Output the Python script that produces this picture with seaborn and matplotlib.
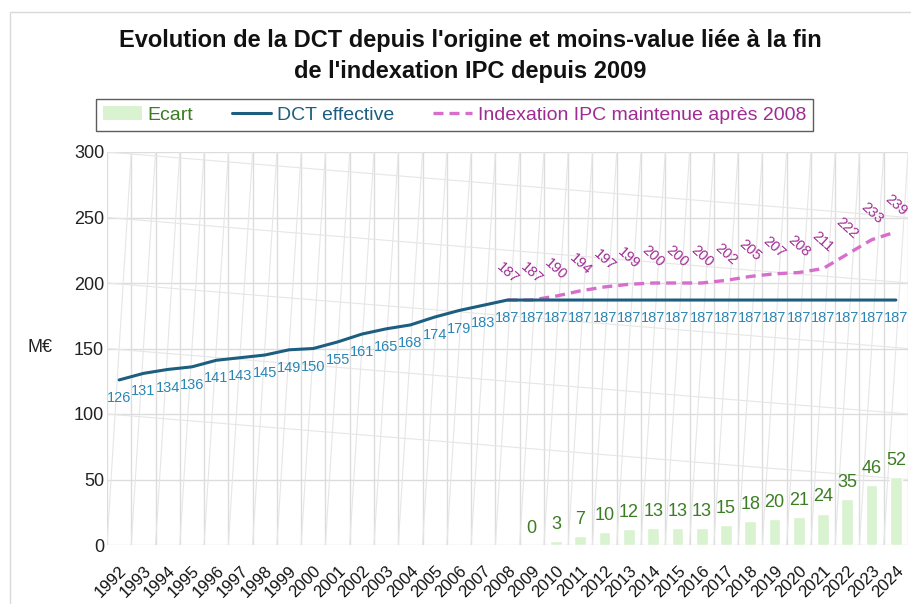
import numpy as np
import pandas as pd
import matplotlib
matplotlib.use("Agg")
import matplotlib.pyplot as plt
import seaborn as sns
from matplotlib.patches import Patch, Rectangle
from matplotlib.lines import Line2D

# ------------------------------------------------------------------
# Data
# ------------------------------------------------------------------
years = list(range(1992, 2025))
dct_effective = [126, 131, 134, 136, 141, 143, 145, 149, 150, 155, 161, 165,
                 168, 174, 179, 183, 187,
                 187, 187, 187, 187, 187, 187, 187, 187, 187, 187, 187, 187,
                 187, 187, 187, 187]

index_years = list(range(2008, 2025))
index_ipc = [187, 187, 190, 194, 197, 199, 200, 200, 200, 202, 205, 207, 208,
             211, 222, 233, 239]

ecart_years = list(range(2009, 2025))
ecart = [0, 3, 7, 10, 12, 13, 13, 13, 15, 18, 20, 21, 24, 35, 46, 52]

y_ticks = [0, 50, 100, 150, 200, 250, 300]

title = ("Evolution de la DCT depuis l'origine et moins-value liée à la fin\n"
         "de l'indexation IPC depuis 2009")

# colours
c_bar = "#D9F2D0"
c_bar_txt = "#3B7D23"
c_dct = "#1C5E80"
c_dct_txt = "#2A86B4"
c_ipc = "#D86ECC"
c_ipc_txt = "#A02B93"
c_grid = "#DCDCDC"
c_grid2 = "#E6E6E6"

sns.set_theme(style="white")
plt.rcParams["font.family"] = ["Liberation Sans", "DejaVu Sans"]

fig = plt.figure(figsize=(9.12, 6.04), dpi=100)
ax = fig.add_axes([107 / 912, 1 - 545 / 604, (908 - 107) / 912, (545 - 152) / 604])

# chart border
fig.patches.append(Rectangle((10 / 912, -0.05), 1.1, 1 - 12 / 604 + 0.05,
                             transform=fig.transFigure, fill=False,
                             edgecolor="#D9D9D9", lw=1, zorder=0))

# ------------------------------------------------------------------
# Grid (straight + the skewed copy seen in the original)
# ------------------------------------------------------------------
n = len(years)
x_lo, x_hi = -0.5, n - 0.5
ax.hlines(y_ticks, x_lo, x_hi, color=c_grid, lw=1, zorder=0)
ax.vlines(np.arange(n + 1) - 0.5, 0, 300, color=c_grid, lw=1, zorder=0)
for v in y_ticks[2:]:
    ax.plot([x_lo, x_hi], [v, v - 50], color=c_grid2, lw=0.8, zorder=0)
for j in range(n):
    ax.plot([j - 0.5, j + 0.5], [0, 300], color=c_grid2, lw=0.8, zorder=0)

# ------------------------------------------------------------------
# Bars: Ecart
# ------------------------------------------------------------------
year_labels = [str(y) for y in years]
df_bar = pd.DataFrame({"annee": [str(y) for y in ecart_years], "ecart": ecart})
sns.barplot(data=df_bar, x="annee", y="ecart", order=year_labels, color=c_bar,
            saturation=1, width=0.48, ax=ax, zorder=2)

# ------------------------------------------------------------------
# Lines
# ------------------------------------------------------------------
df_dct = pd.DataFrame({"pos": [years.index(y) for y in years], "dct": dct_effective})
df_ipc = pd.DataFrame({"pos": [years.index(y) for y in index_years], "ipc": index_ipc})

sns.lineplot(data=df_ipc, x="pos", y="ipc", color=c_ipc, lw=2.4, ax=ax,
             zorder=3).lines[-1].set_dashes((3, 1.8))
sns.lineplot(data=df_dct, x="pos", y="dct", color=c_dct, lw=2.2, ax=ax, zorder=4)

# data labels
for p, v in zip(df_dct["pos"], dct_effective):
    ax.annotate(str(v), (p, v), xytext=(0, -13), textcoords="offset points",
                ha="center", va="center", fontsize=10.5, color=c_dct_txt, zorder=5)
for p, v in zip(df_ipc["pos"], index_ipc):
    ax.annotate(str(v), (p, v), xytext=(0, 19), textcoords="offset points",
                ha="center", va="center", rotation=-42, fontsize=10.5,
                color=c_ipc_txt, zorder=5)
for y, v in zip(ecart_years, ecart):
    p = years.index(y)
    ax.annotate(str(v), (p, v), xytext=(0, 12), textcoords="offset points",
                ha="center", va="center", fontsize=13, color=c_bar_txt, zorder=5)

# ------------------------------------------------------------------
# Axes
# ------------------------------------------------------------------
ax.set_xlim(x_lo, x_hi)
ax.set_ylim(0, 300)
ax.set_yticks(y_ticks)
ax.set_yticklabels([str(t) for t in y_ticks], fontsize=13, color="#222222")
ax.set_xticks(range(n))
ax.set_xticklabels(year_labels, rotation=45, ha="right", va="top",
                   rotation_mode="anchor", fontsize=12, color="#111111")
ax.tick_params(axis="x", length=0, pad=13)
ax.tick_params(axis="y", length=0, pad=2)
ax.set_xlabel("")
ax.set_ylabel("")
for s in ax.spines.values():
    s.set_visible(False)
ax.set_facecolor("none")
fig.text(28 / 912, 1 - 348 / 604, "M€", fontsize=13, color="#222222",
         ha="left", va="center")

# ------------------------------------------------------------------
# Title and legend
# ------------------------------------------------------------------
fig.text(470 / 912, 1 - 56 / 604, title, ha="center", va="center",
         fontsize=17, fontweight="bold", color="#111111", linespacing=1.45)

handles = [Patch(facecolor=c_bar, edgecolor="none"),
           Line2D([], [], color=c_dct, lw=2.2),
           Line2D([], [], color=c_ipc, lw=2.4, dashes=(3, 1.8))]
labels = ["Ecart", "DCT effective", "Indexation IPC maintenue après 2008"]
leg = fig.legend(handles, labels, loc="center",
                 bbox_to_anchor=((96 + 813) / 2 / 912, 1 - 115 / 604),
                 ncol=3, fontsize=14, frameon=True, fancybox=False,
                 handlelength=2.0, handletextpad=0.3, columnspacing=2.0,
                 borderpad=0.35)
leg.get_frame().set_edgecolor("#333333")
leg.get_frame().set_linewidth(1)
for t, c in zip(leg.get_texts(), [c_bar_txt, c_dct, c_ipc_txt]):
    t.set_color(c)

fig.savefig("out.png", dpi=100)
